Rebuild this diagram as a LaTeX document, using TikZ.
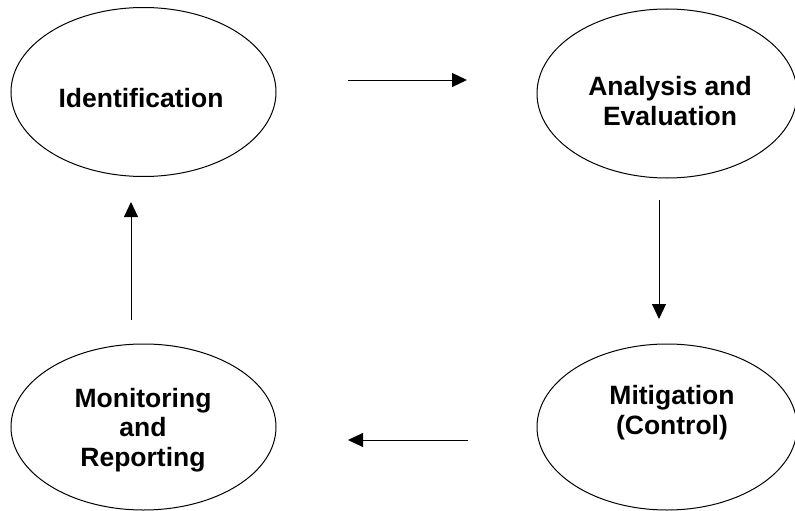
\documentclass[tikz,border=0pt]{standalone}
\usepackage{fontspec}
\setmainfont{Liberation Sans}
\usetikzlibrary{shapes.geometric,arrows.meta}
\tikzset{
  stage/.style={draw, ellipse, line width=1pt, inner sep=0pt, minimum width=265pt, minimum height=169pt},
  stagetext/.style={anchor=base, align=center, inner sep=0pt, font=\bfseries\fontsize{26.5}{29.5}\selectfont},
  flow/.style={line width=1pt, -{Triangle[length=15pt,width=14pt]}}
}
\begin{document}
\begin{tikzpicture}[x=1pt,y=-1pt]
\useasboundingbox (0,0) rectangle (795,511);
\node[stage] (ident) at (143.5,92) {};
\node[stage, minimum width=260pt] (anal) at (667,93.5) {};
\node[stage, minimum height=166pt] (monit) at (143.5,427) {};
\node[stage, minimum width=260pt, minimum height=166pt] (mitig) at (667,427) {};
\node[stagetext] (identtext) at (141,107) {Identification};
\node[stagetext] (analtext) at (670,125) {Analysis and\\Evaluation};
\node[stagetext] (monittext) at (143,466) {Monitoring\\and\\Reporting};
\node[stagetext] (mitigtext) at (672,434) {Mitigation\\(Control)};
\coordinate (a1s) at (348,80);
\coordinate (a1e) at (467,80);
\coordinate (a2s) at (659,200);
\coordinate (a2e) at (659,319);
\coordinate (a3s) at (468,440);
\coordinate (a3e) at (348,440);
\coordinate (a4s) at (131,320);
\coordinate (a4e) at (131,202);
\draw[flow] (a1s) -- (a1e);
\draw[flow] (a2s) -- (a2e);
\draw[flow] (a3s) -- (a3e);
\draw[flow] (a4s) -- (a4e);
\end{tikzpicture}
\end{document}
